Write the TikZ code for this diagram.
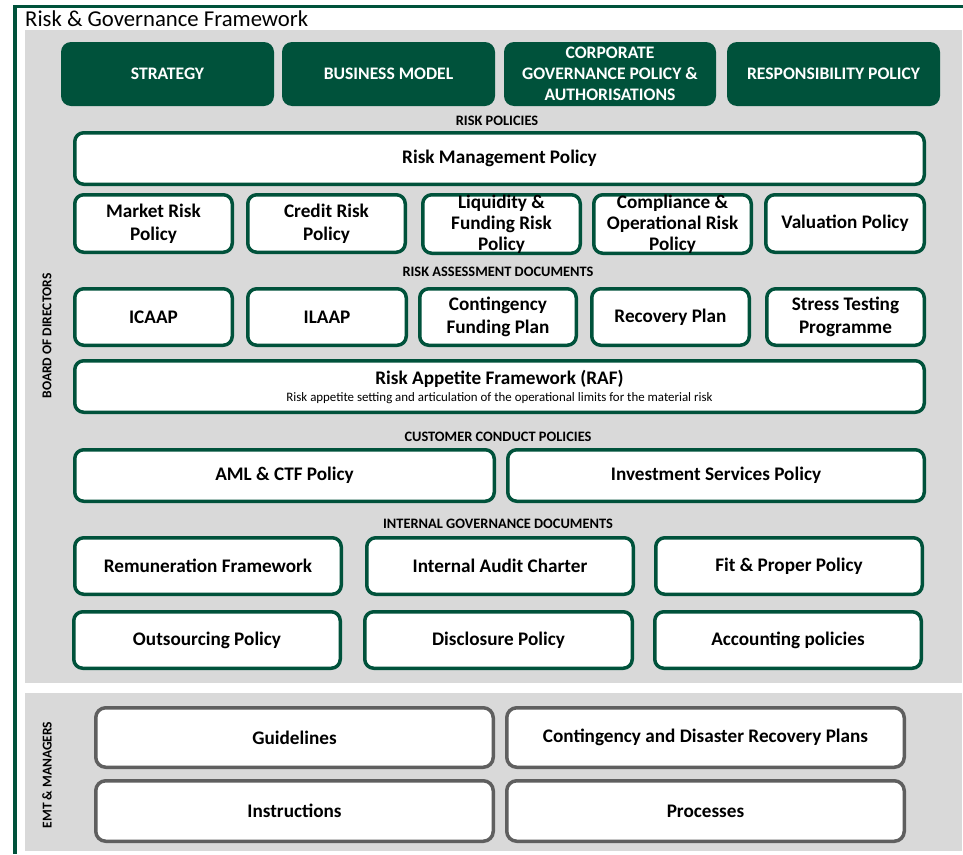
\documentclass[tikz,border=0pt]{standalone}
\usepackage{fontspec}
\setmainfont{Carlito}
\definecolor{dkgreen}{HTML}{00523B}
\definecolor{panel}{HTML}{D9D9D9}
\definecolor{greyline}{HTML}{5F5F5F}
\begin{document}
\begin{tikzpicture}[x=1pt,y=-1pt,
  darkbox/.style={fill=dkgreen, rounded corners=10pt, text=white, inner sep=0pt, align=center,
     font=\bfseries\fontsize{17.6}{21}\selectfont},
  gbox/.style={draw=dkgreen, line width=3.5pt, fill=white, rounded corners=9pt, inner sep=0pt, align=center,
     font=\bfseries\fontsize{19.2}{23}\selectfont},
  ybox/.style={draw=greyline, line width=3.5pt, fill=white, rounded corners=10pt, inner sep=0pt, align=center,
     font=\bfseries\fontsize{19.2}{23}\selectfont},
  sect/.style={inner sep=0pt, font=\bfseries\fontsize{14.4}{16}\selectfont},
  vlab/.style={inner sep=0pt, rotate=90, font=\bfseries\fontsize{13.5}{15}\selectfont},
  sz/.style n args={2}{minimum width=#1-3.5pt, minimum height=#2-3.5pt}
]
\useasboundingbox (0,0) rectangle (963,854);
% panels
\fill[panel] (25,30) rectangle (962,683);
\fill[panel] (25,693) rectangle (962,851);
% frame lines
\draw[dkgreen, line width=2.6pt] (13,6.2) -- (963,6.2);
\draw[dkgreen, line width=3.4pt] (15,5) -- (15,854);
% title
\node[anchor=west, inner sep=0pt, font=\fontsize{22.7}{26}\selectfont] (title) at (25,19) {Risk \& Governance Framework};
% top dark boxes
\node[darkbox, minimum width=213pt, minimum height=64pt] (strategy) at (167.5,74) {STRATEGY};
\node[darkbox, minimum width=213pt, minimum height=64pt] (business) at (388.5,74) {BUSINESS MODEL};
\node[darkbox, minimum width=212pt, minimum height=64pt] (corporate) at (610,74) {CORPORATE\\GOVERNANCE POLICY \&\\AUTHORISATIONS};
\node[darkbox, minimum width=213pt, minimum height=64pt] (resp) at (833.5,74) {RESPONSIBILITY POLICY};
% risk policies
\node[sect] (s1) at (497,121) {RISK POLICIES};
\node[gbox, sz={853pt}{55pt}] (rmp) at (499.5,158.5) {Risk Management Policy};
\node[gbox, sz={161pt}{61pt}] (market) at (153.5,223.5) {Market Risk\\Policy};
\node[gbox, sz={161pt}{61pt}] (credit) at (326.5,223.5) {Credit Risk\\Policy};
\node[gbox, sz={161pt}{61pt}, font=\bfseries\fontsize{19.2}{21}\selectfont] (liquidity) at (501.5,224) {Liquidity \&\\Funding Risk\\Policy};
\node[gbox, sz={161pt}{61pt}, font=\bfseries\fontsize{19.2}{21}\selectfont] (compliance) at (672.5,224) {Compliance \&\\Operational Risk\\Policy};
\node[gbox, sz={162pt}{61pt}] (valuation) at (845,223.5) {Valuation Policy};
% risk assessment
\node[sect] (s2) at (498,272) {RISK ASSESSMENT DOCUMENTS};
\node[gbox, sz={161pt}{60pt}] (icaap) at (153.5,317) {ICAAP};
\node[gbox, sz={162pt}{60pt}] (ilaap) at (327,317) {ILAAP};
\node[gbox, sz={160pt}{60pt}] (cfp) at (498,317) {Contingency\\Funding Plan};
\node[gbox, sz={161pt}{60pt}] (recovery) at (670.5,317) {Recovery Plan};
\node[gbox, sz={161pt}{60pt}] (stress) at (845.5,317) {Stress Testing\\Programme};
\node[gbox, sz={853pt}{55pt}] (raf) at (499.5,386.5) {Risk Appetite Framework (RAF)\\[-6pt]{\mdseries\fontsize{12.9}{14}\selectfont Risk appetite setting and articulation of the operational limits for the material risk}};
% customer conduct
\node[sect] (s3) at (498,437) {CUSTOMER CONDUCT POLICIES};
\node[gbox, sz={423pt}{55pt}] (aml) at (284.5,475.5) {AML \& CTF Policy};
\node[gbox, sz={420pt}{55pt}] (invest) at (716,475.5) {Investment Services Policy};
% internal governance
\node[sect] (s4) at (498,524) {INTERNAL GOVERNANCE DOCUMENTS};
\node[gbox, sz={270pt}{60pt}] (remun) at (208,566) {Remuneration Framework};
\node[gbox, sz={270pt}{60pt}] (audit) at (500,566) {Internal Audit Charter};
\node[gbox, sz={270pt}{60pt}] (fit) at (789,566) {Fit \& Proper Policy};
\node[gbox, sz={270pt}{60pt}] (outsourcing) at (207,640) {Outsourcing Policy};
\node[gbox, sz={271pt}{60pt}] (disclosure) at (498.5,640) {Disclosure Policy};
\node[gbox, sz={270pt}{60pt}] (accounting) at (788,640) {Accounting policies};
% side labels
\node[vlab] (bod) at (47,336) {BOARD OF DIRECTORS};
\node[vlab] (emt) at (47,775) {EMT \& MANAGERS};
% bottom
\node[ybox, sz={401pt}{63pt}] (guidelines) at (294.5,737.5) {Guidelines};
\node[ybox, sz={401pt}{63pt}] (cdr) at (705.5,737.5) {Contingency and Disaster Recovery Plans};
\node[ybox, sz={401pt}{64pt}] (instructions) at (294.5,811) {Instructions};
\node[ybox, sz={401pt}{64pt}] (processes) at (705.5,811) {Processes};
\end{tikzpicture}
\end{document}
